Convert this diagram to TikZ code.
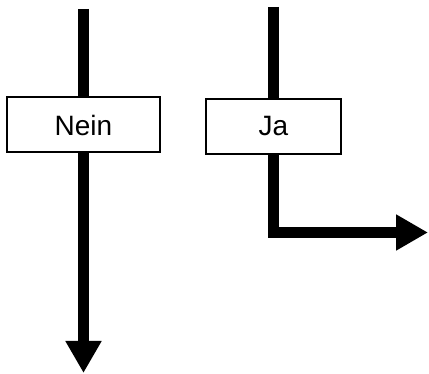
\documentclass[tikz,border=0pt]{standalone}
\usepackage{fontspec}
\setmainfont{Liberation Sans}
\usetikzlibrary{arrows.meta}
\begin{document}
\begin{tikzpicture}[x=1pt,y=1pt,
  flow/.style={line width=11pt},
  flowarrow/.style={line width=11pt,-{Triangle[length=32pt,width=34pt]}},
  choice/.style={draw,line width=2pt,fill=white,minimum height=55pt,inner sep=0pt,
    font=\fontsize{28}{33}\selectfont}]
\useasboundingbox (0,0) rectangle (429,374);
\coordinate (tn) at (83.5,365);
\coordinate (nend) at (83.5,1);
\coordinate (tj) at (273.5,367);
\coordinate (jend) at (428,141.5);
\node[choice,minimum width=153pt] (nein) at (83.5,249) {Nein};
\node[choice,minimum width=135pt] (ja) at (273.5,247.5) {Ja};
\draw[flow] (tn) -- (nein.north);
\draw[flowarrow] (nein.south) -- (nend);
\draw[flow] (tj) -- (ja.north);
\draw[flowarrow,line join=miter] (ja.south) |- (jend);
\end{tikzpicture}
\end{document}
